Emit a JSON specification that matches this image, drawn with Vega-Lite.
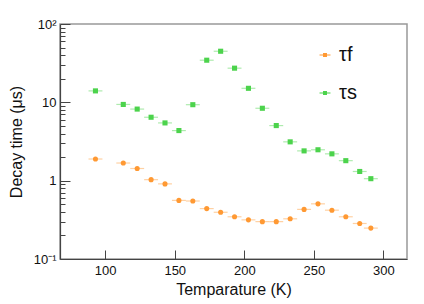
{
  "$schema": "https://vega.github.io/schema/vega-lite/v6.json",
  "width": 347,
  "height": 235,
  "autosize": "none",
  "padding": {"left": 60, "top": 24, "right": 17, "bottom": 45},
  "background": "white",
  "config": {
    "view": {"stroke": "#999999", "strokeWidth": 1.5},
    "font": "Liberation Sans",
    "axis": {"grid": false, "domainColor": "#444444", "tickColor": "#444444", "labelColor": "#111111", "titleColor": "#111111", "labelFont": "Liberation Sans", "titleFont": "Liberation Sans", "titleFontWeight": "normal", "labelFontSize": 13, "titleFontSize": 16},
    "legend": {"title": null, "orient": "none", "legendX": 255, "legendY": 21, "labelFontSize": 20, "labelFont": "Liberation Sans", "labelColor": "#111111", "rowPadding": 18, "symbolSize": 120, "symbolType": "M-1,0H-0.25M0.25,0H1M-0.25,-0.25H0.25V0.25H-0.25Z", "symbolStrokeWidth": 1.2, "symbolOpacity": 1, "labelOffset": 4}
  },
  "data": {"values": [
    {"T": 93, "lo": 88, "hi": 98, "tau": 1.89, "s": "τf"},
    {"T": 113, "lo": 108, "hi": 118, "tau": 1.68, "s": "τf"},
    {"T": 123, "lo": 118, "hi": 128, "tau": 1.43, "s": "τf"},
    {"T": 133, "lo": 128, "hi": 138, "tau": 1.03, "s": "τf"},
    {"T": 143, "lo": 138, "hi": 148, "tau": 0.91, "s": "τf"},
    {"T": 153, "lo": 148, "hi": 158, "tau": 0.56, "s": "τf"},
    {"T": 163, "lo": 158, "hi": 168, "tau": 0.55, "s": "τf"},
    {"T": 173, "lo": 168, "hi": 178, "tau": 0.44, "s": "τf"},
    {"T": 183, "lo": 178, "hi": 188, "tau": 0.395, "s": "τf"},
    {"T": 193, "lo": 188, "hi": 198, "tau": 0.346, "s": "τf"},
    {"T": 203, "lo": 198, "hi": 208, "tau": 0.316, "s": "τf"},
    {"T": 213, "lo": 208, "hi": 218, "tau": 0.30, "s": "τf"},
    {"T": 223, "lo": 218, "hi": 228, "tau": 0.30, "s": "τf"},
    {"T": 233, "lo": 228, "hi": 238, "tau": 0.326, "s": "τf"},
    {"T": 243, "lo": 238, "hi": 248, "tau": 0.43, "s": "τf"},
    {"T": 253, "lo": 248, "hi": 258, "tau": 0.506, "s": "τf"},
    {"T": 263, "lo": 258, "hi": 268, "tau": 0.42, "s": "τf"},
    {"T": 273, "lo": 268, "hi": 278, "tau": 0.346, "s": "τf"},
    {"T": 283, "lo": 278, "hi": 288, "tau": 0.284, "s": "τf"},
    {"T": 291, "lo": 286, "hi": 296, "tau": 0.248, "s": "τf"},
    {"T": 93, "lo": 88, "hi": 98, "tau": 14.0, "s": "τs"},
    {"T": 113, "lo": 108, "hi": 118, "tau": 9.4, "s": "τs"},
    {"T": 123, "lo": 118, "hi": 128, "tau": 8.2, "s": "τs"},
    {"T": 133, "lo": 128, "hi": 138, "tau": 6.45, "s": "τs"},
    {"T": 143, "lo": 138, "hi": 148, "tau": 5.46, "s": "τs"},
    {"T": 153, "lo": 148, "hi": 158, "tau": 4.36, "s": "τs"},
    {"T": 163, "lo": 158, "hi": 168, "tau": 9.33, "s": "τs"},
    {"T": 173, "lo": 168, "hi": 178, "tau": 34.5, "s": "τs"},
    {"T": 183, "lo": 178, "hi": 188, "tau": 44.9, "s": "τs"},
    {"T": 193, "lo": 188, "hi": 198, "tau": 27.3, "s": "τs"},
    {"T": 203, "lo": 198, "hi": 208, "tau": 15.1, "s": "τs"},
    {"T": 213, "lo": 208, "hi": 218, "tau": 8.4, "s": "τs"},
    {"T": 223, "lo": 218, "hi": 228, "tau": 5.05, "s": "τs"},
    {"T": 233, "lo": 228, "hi": 238, "tau": 3.13, "s": "τs"},
    {"T": 243, "lo": 238, "hi": 248, "tau": 2.4, "s": "τs"},
    {"T": 253, "lo": 248, "hi": 258, "tau": 2.48, "s": "τs"},
    {"T": 263, "lo": 258, "hi": 268, "tau": 2.2, "s": "τs"},
    {"T": 273, "lo": 268, "hi": 278, "tau": 1.8, "s": "τs"},
    {"T": 283, "lo": 278, "hi": 288, "tau": 1.31, "s": "τs"},
    {"T": 291, "lo": 286, "hi": 296, "tau": 1.06, "s": "τs"}
  ]},
  "encoding": {
    "y": {
      "field": "tau", "type": "quantitative",
      "scale": {"type": "log", "domain": [0.1, 100], "nice": false},
      "axis": {
        "title": "Decay time (μs)",
        "values": [0.1, 0.2, 0.3, 0.4, 0.5, 0.6, 0.7, 0.8, 0.9, 1, 2, 3, 4, 5, 6, 7, 8, 9, 10, 20, 30, 40, 50, 60, 70, 80, 90, 100],
        "labelExpr": "abs(datum.value-100)<0.001 ? '10²' : abs(datum.value-10)<0.001 ? '10' : abs(datum.value-1)<0.0001 ? '1' : abs(datum.value-0.1)<0.00001 ? '10⁻¹' : ''",
        "tickSize": {"condition": {"test": "abs(datum.value-100)<0.001 || abs(datum.value-10)<0.001 || abs(datum.value-1)<0.0001 || abs(datum.value-0.1)<0.00001", "value": -10}, "value": -5},
        "labelPadding": 14,
        "titlePadding": 9,
        "domainWidth": 1.2
      }
    },
    "color": {
      "field": "s", "type": "nominal",
      "scale": {"domain": ["τf", "τs"], "range": ["#ff9933", "#4cd34c"]}
    }
  },
  "layer": [
    {
      "mark": {"type": "rule", "strokeWidth": 1.2, "opacity": 0.45},
      "encoding": {
        "x": {
          "field": "lo", "type": "quantitative",
          "scale": {"domain": [67.5, 317], "nice": false, "zero": false},
          "axis": {"title": "Temparature (K)", "values": [100, 150, 200, 250, 300], "tickSize": -9, "labelPadding": 14, "titlePadding": 4, "domainWidth": 1.2}
        },
        "x2": {"field": "hi"}
      }
    },
    {
      "transform": [{"filter": "datum.s == 'τf'"}],
      "mark": {"type": "point", "shape": "circle", "filled": true, "opacity": 1, "size": 26},
      "encoding": {
        "x": {"field": "T", "type": "quantitative"}
      }
    },
    {
      "transform": [{"filter": "datum.s == 'τs'"}],
      "mark": {"type": "point", "shape": "square", "filled": true, "opacity": 1, "size": 26},
      "encoding": {
        "x": {"field": "T", "type": "quantitative"}
      }
    }
  ]
}
